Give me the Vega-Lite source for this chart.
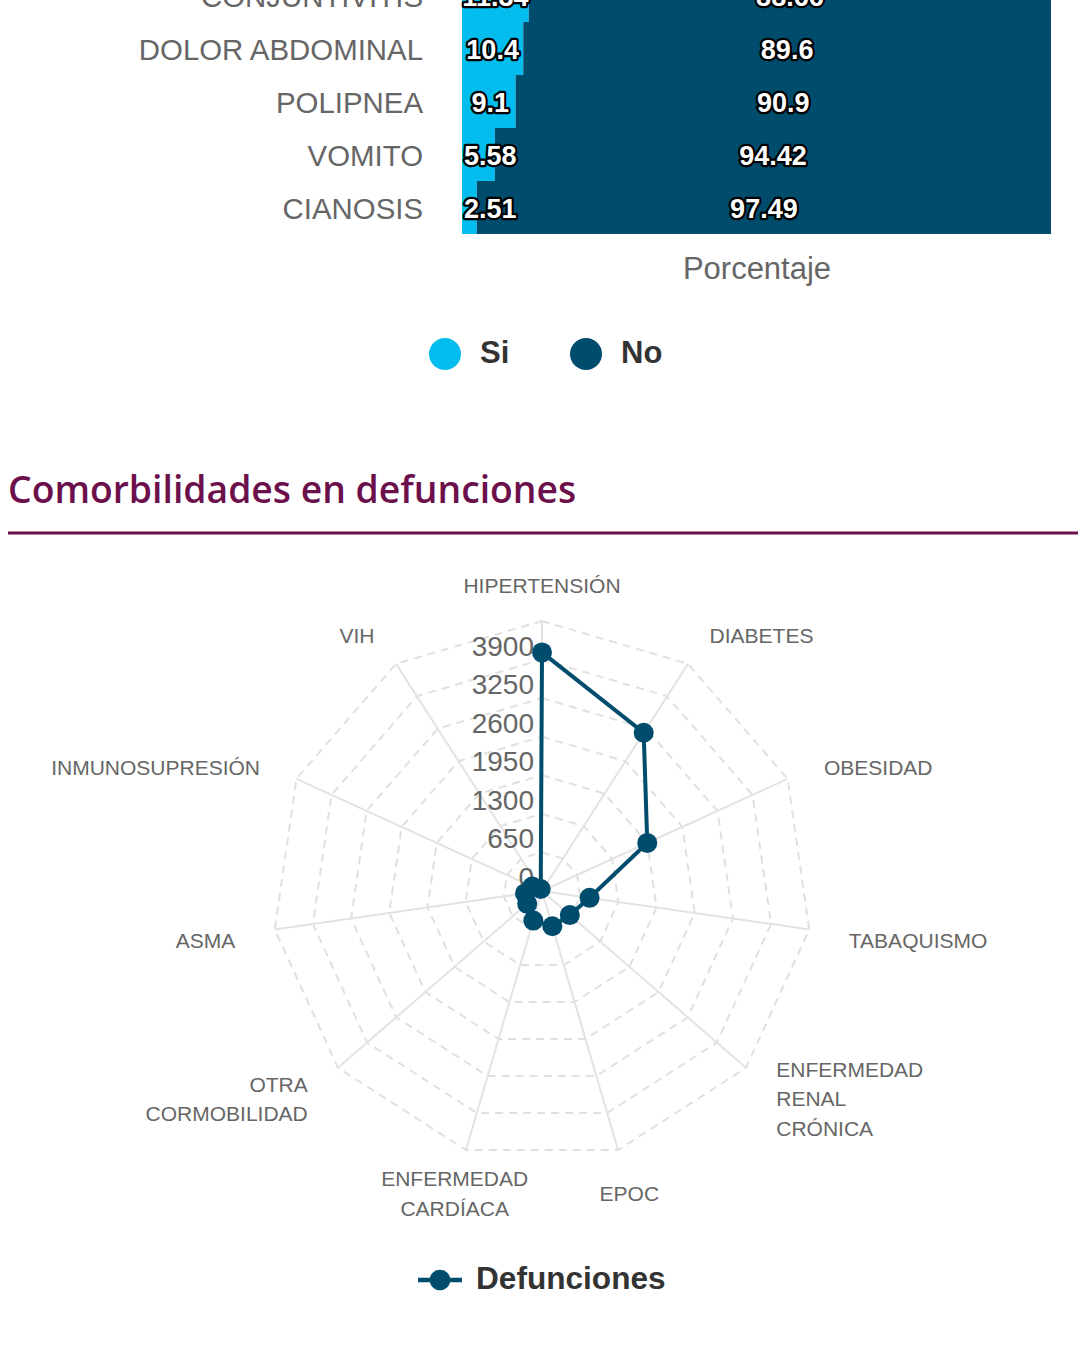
{
  "$schema": "https://vega.github.io/schema/vega-lite/v6.json",
  "width": 1090,
  "height": 1353,
  "autosize": {"type": "none"},
  "padding": 0,
  "background": "white",
  "config": {"view": {"stroke": null}, "font": "Liberation Sans"},
  "datasets": {
    "bars": [
      {"cat": "CONJUNTIVITIS", "serie": "Si", "val": 11.34},
      {"cat": "CONJUNTIVITIS", "serie": "No", "val": 88.66},
      {"cat": "DOLOR ABDOMINAL", "serie": "Si", "val": 10.4},
      {"cat": "DOLOR ABDOMINAL", "serie": "No", "val": 89.6},
      {"cat": "POLIPNEA", "serie": "Si", "val": 9.1},
      {"cat": "POLIPNEA", "serie": "No", "val": 90.9},
      {"cat": "VOMITO", "serie": "Si", "val": 5.58},
      {"cat": "VOMITO", "serie": "No", "val": 94.42},
      {"cat": "CIANOSIS", "serie": "Si", "val": 2.51},
      {"cat": "CIANOSIS", "serie": "No", "val": 97.49}
    ],
    "radar": [
      {"cat": "HIPERTENSIÓN", "lab": "HIPERTENSIÓN", "i": 0, "v": 4020, "levels": [650, 1300, 1950, 2600, 3250, 3900, 4550]},
      {"cat": "DIABETES", "lab": "DIABETES", "i": 1, "v": 3170, "levels": [650, 1300, 1950, 2600, 3250, 3900, 4550]},
      {"cat": "OBESIDAD", "lab": "OBESIDAD", "i": 2, "v": 1950, "levels": [650, 1300, 1950, 2600, 3250, 3900, 4550]},
      {"cat": "TABAQUISMO", "lab": "TABAQUISMO", "i": 3, "v": 810, "levels": [650, 1300, 1950, 2600, 3250, 3900, 4550]},
      {"cat": "ENFERMEDAD RENAL CRÓNICA", "lab": "ENFERMEDAD\nRENAL\nCRÓNICA", "i": 4, "v": 620, "levels": [650, 1300, 1950, 2600, 3250, 3900, 4550]},
      {"cat": "EPOC", "lab": "EPOC", "i": 5, "v": 620, "levels": [650, 1300, 1950, 2600, 3250, 3900, 4550]},
      {"cat": "ENFERMEDAD CARDÍACA", "lab": "ENFERMEDAD\nCARDÍACA", "i": 6, "v": 520, "levels": [650, 1300, 1950, 2600, 3250, 3900, 4550]},
      {"cat": "OTRA CORMOBILIDAD", "lab": "OTRA\nCORMOBILIDAD", "i": 7, "v": 330, "levels": [650, 1300, 1950, 2600, 3250, 3900, 4550]},
      {"cat": "ASMA", "lab": "ASMA", "i": 8, "v": 290, "levels": [650, 1300, 1950, 2600, 3250, 3900, 4550]},
      {"cat": "INMUNOSUPRESIÓN", "lab": "INMUNOSUPRESIÓN", "i": 9, "v": 180, "levels": [650, 1300, 1950, 2600, 3250, 3900, 4550]},
      {"cat": "VIH", "lab": "VIH", "i": 10, "v": 40, "levels": [650, 1300, 1950, 2600, 3250, 3900, 4550]}
    ],
    "ticks": [
      {"t": 0}, {"t": 650}, {"t": 1300}, {"t": 1950}, {"t": 2600}, {"t": 3250}, {"t": 3900}
    ],
    "titulo": [
      {"t": "Comorbilidades en defunciones"}
    ]
  },
  "layer": [
    {
      "data": {"name": "bars"},
      "transform": [
        {"calculate": "datum.serie === 'Si' ? 0 : 1", "as": "ord"},
        {"stack": "val", "groupby": ["cat"], "sort": [{"field": "ord", "order": "ascending"}], "as": ["x0", "x1"]},
        {"calculate": "datum.serie === 'Si' ? max((datum.x0 + datum.x1) / 2, 4.8) : (datum.x0 + datum.x1) / 2", "as": "mid"},
        {"calculate": "0", "as": "base"}
      ],
      "layer": [
        {
          "mark": {"type": "bar"},
          "encoding": {
            "y": {
              "field": "cat", "type": "nominal",
              "scale": {"type": "band", "domain": ["CONJUNTIVITIS", "DOLOR ABDOMINAL", "POLIPNEA", "VOMITO", "CIANOSIS"], "range": [-31, 234], "paddingInner": 0, "paddingOuter": 0},
              "axis": null
            },
            "x": {
              "field": "x0", "type": "quantitative",
              "scale": {"domain": [0, 100], "range": [462, 1051], "nice": false, "zero": false},
              "axis": {"orient": "bottom", "offset": -1119, "domain": false, "ticks": false, "labels": false, "grid": false, "title": "Porcentaje", "titleFontSize": 31, "titleFontWeight": "normal", "titleColor": "#666666", "titlePadding": 20, "titleFont": "Liberation Sans"}
            },
            "x2": {"field": "x1"},
            "color": {
              "field": "serie", "type": "nominal",
              "scale": {"domain": ["Si", "No"], "range": ["#02bdee", "#004c6d"]},
              "legend": {"orient": "none", "legendX": 429, "legendY": 338, "direction": "horizontal", "title": null, "symbolType": "circle", "symbolSize": 1024, "symbolStrokeWidth": 0, "symbolOpacity": 1, "labelFontSize": 31, "labelFontWeight": "bold", "labelColor": "#333333", "labelOffset": 19, "columnPadding": 60, "padding": 0, "labelFont": "Liberation Sans", "labelLimit": 400}
            }
          }
        },
        {
          "mark": {"type": "text", "fontSize": 27, "fontWeight": "bold", "fill": "#000000", "stroke": "#000000", "strokeWidth": 4.5, "strokeJoin": "round", "align": "center", "baseline": "middle", "dy": 2, "font": "Liberation Sans"},
          "encoding": {
            "y": {"field": "cat", "type": "nominal", "axis": null},
            "x": {
              "field": "mid", "type": "quantitative",
              "axis": {"orient": "bottom", "offset": -1119, "domain": false, "ticks": false, "labels": false, "grid": false, "title": "Porcentaje", "titleFontSize": 31, "titleFontWeight": "normal", "titleColor": "#666666", "titlePadding": 20, "titleFont": "Liberation Sans"}
            },
            "text": {"field": "val", "type": "nominal"}
          }
        },
        {
          "mark": {"type": "text", "fontSize": 27, "fontWeight": "bold", "fill": "#ffffff", "align": "center", "baseline": "middle", "dy": 2, "font": "Liberation Sans"},
          "encoding": {
            "y": {"field": "cat", "type": "nominal", "axis": null},
            "x": {
              "field": "mid", "type": "quantitative",
              "axis": {"orient": "bottom", "offset": -1119, "domain": false, "ticks": false, "labels": false, "grid": false, "title": "Porcentaje", "titleFontSize": 31, "titleFontWeight": "normal", "titleColor": "#666666", "titlePadding": 20, "titleFont": "Liberation Sans"}
            },
            "text": {"field": "val", "type": "nominal"}
          }
        },
        {
          "transform": [{"filter": "datum.serie === 'Si'"}],
          "mark": {"type": "text", "fontSize": 29.4, "fill": "#666666", "align": "right", "baseline": "middle", "dx": -39, "dy": 2, "font": "Liberation Sans"},
          "encoding": {
            "y": {"field": "cat", "type": "nominal", "axis": null},
            "x": {
              "field": "base", "type": "quantitative",
              "axis": {"orient": "bottom", "offset": -1119, "domain": false, "ticks": false, "labels": false, "grid": false, "title": "Porcentaje", "titleFontSize": 31, "titleFontWeight": "normal", "titleColor": "#666666", "titlePadding": 20, "titleFont": "Liberation Sans"}
            },
            "text": {"field": "cat", "type": "nominal"}
          }
        }
      ]
    },
    {
      "data": {"name": "radar"},
      "transform": [
        {"calculate": "datum.i * 2 * PI / 11", "as": "ang"},
        {"calculate": "datum.v * sin(datum.ang)", "as": "px"},
        {"calculate": "datum.v * cos(datum.ang)", "as": "py"},
        {"calculate": "4550 * sin(datum.ang)", "as": "sx"},
        {"calculate": "4550 * cos(datum.ang)", "as": "sy"},
        {"calculate": "5224 * sin(datum.ang)", "as": "lx"},
        {"calculate": "5224 * cos(datum.ang) + (length(split(datum.lab, '\\n')) - 1) / 2 * 497", "as": "ly"},
        {"calculate": "0", "as": "c0"},
        {"calculate": "'Defunciones'", "as": "serie"}
      ],
      "layer": [
        {
          "transform": [
            {"flatten": ["levels"], "as": ["lvl"]},
            {"calculate": "datum.lvl * sin(datum.ang)", "as": "rx"},
            {"calculate": "datum.lvl * cos(datum.ang)", "as": "ry"}
          ],
          "mark": {"type": "line", "interpolate": "linear-closed", "strokeDash": [8, 6], "color": "#e0e0e0", "strokeWidth": 2},
          "encoding": {
            "x": {"field": "rx", "type": "quantitative", "scale": {"domain": [-9134, 9235], "nice": false, "zero": false}, "axis": null},
            "y": {"field": "ry", "type": "quantitative", "scale": {"domain": [-7786, 15015], "nice": false, "zero": false}, "axis": null},
            "detail": {"field": "lvl", "type": "nominal"},
            "order": {"field": "i", "type": "quantitative"}
          }
        },
        {
          "mark": {"type": "rule", "color": "#e3e3e3", "strokeWidth": 2},
          "encoding": {
            "x": {"field": "c0", "type": "quantitative", "axis": null},
            "y": {"field": "c0", "type": "quantitative", "axis": null},
            "x2": {"field": "sx"},
            "y2": {"field": "sy"}
          }
        },
        {
          "data": {"name": "ticks"},
          "transform": [{"calculate": "0", "as": "c0"}],
          "mark": {"type": "text", "fontSize": 28, "fill": "#666666", "align": "right", "baseline": "alphabetic", "dx": -8, "dy": -4, "font": "Liberation Sans"},
          "encoding": {
            "x": {"field": "c0", "type": "quantitative", "axis": null},
            "y": {"field": "t", "type": "quantitative", "axis": null},
            "text": {"field": "t", "type": "nominal"}
          }
        },
        {
          "mark": {"type": "line", "interpolate": "linear-closed", "color": "#004c6d", "strokeWidth": 4},
          "encoding": {
            "x": {"field": "px", "type": "quantitative", "axis": null},
            "y": {"field": "py", "type": "quantitative", "axis": null},
            "order": {"field": "i", "type": "quantitative"}
          }
        },
        {
          "mark": {"type": "point", "filled": true, "size": 400, "opacity": 1, "shape": "circle"},
          "encoding": {
            "x": {"field": "px", "type": "quantitative", "axis": null},
            "y": {"field": "py", "type": "quantitative", "axis": null},
            "color": {
              "field": "serie", "type": "nominal",
              "scale": {"domain": ["Defunciones"], "range": ["#004c6d"]},
              "legend": {"orient": "none", "legendX": 418, "legendY": 1258, "title": null, "symbolType": "M-1,-0.1L1,-0.1L1,0.1L-1,0.1Z M0.47,0A0.47,0.47 0 1,1 -0.47,0A0.47,0.47 0 1,1 0.47,0Z", "symbolSize": 1936, "symbolStrokeWidth": 0, "symbolOpacity": 1, "labelFontSize": 31.6, "labelFontWeight": "bold", "labelColor": "#333333", "labelOffset": 14, "padding": 0, "labelFont": "Liberation Sans", "labelLimit": 400}
            }
          }
        },
        {
          "transform": [{"filter": "datum.i >= 1 && datum.i <= 4"}],
          "mark": {"type": "text", "fontSize": 21, "fill": "#666666", "align": "left", "baseline": "middle", "dy": 6.5, "lineBreak": "\n", "lineHeight": 29.5, "font": "Liberation Sans"},
          "encoding": {
            "x": {"field": "lx", "type": "quantitative", "axis": null},
            "y": {"field": "ly", "type": "quantitative", "axis": null},
            "text": {"field": "lab", "type": "nominal"}
          }
        },
        {
          "transform": [{"filter": "datum.i == 0 || datum.i == 5 || datum.i == 6"}],
          "mark": {"type": "text", "fontSize": 21, "fill": "#666666", "align": "center", "baseline": "middle", "dy": 6.5, "lineBreak": "\n", "lineHeight": 29.5, "font": "Liberation Sans"},
          "encoding": {
            "x": {"field": "lx", "type": "quantitative", "axis": null},
            "y": {"field": "ly", "type": "quantitative", "axis": null},
            "text": {"field": "lab", "type": "nominal"}
          }
        },
        {
          "transform": [{"filter": "datum.i >= 7"}],
          "mark": {"type": "text", "fontSize": 21, "fill": "#666666", "align": "right", "baseline": "middle", "dy": 6.5, "lineBreak": "\n", "lineHeight": 29.5, "font": "Liberation Sans"},
          "encoding": {
            "x": {"field": "lx", "type": "quantitative", "axis": null},
            "y": {"field": "ly", "type": "quantitative", "axis": null},
            "text": {"field": "lab", "type": "nominal"}
          }
        },
        {
          "data": {"name": "titulo"},
          "transform": [
            {"calculate": "-8999", "as": "tx"},
            {"calculate": "6539", "as": "ty"},
            {"calculate": "9033", "as": "tx2"},
            {"calculate": "6033", "as": "uy"}
          ],
          "layer": [
            {
              "mark": {"type": "text", "fontSize": 37.3, "fontWeight": 600, "fill": "#6c104c", "align": "left", "baseline": "alphabetic", "font": "Open Sans"},
              "encoding": {
                "x": {"field": "tx", "type": "quantitative", "axis": null},
                "y": {"field": "ty", "type": "quantitative", "axis": null},
                "text": {"field": "t", "type": "nominal"}
              }
            },
            {
              "mark": {"type": "rule", "color": "#6c104c", "strokeWidth": 3},
              "encoding": {
                "x": {"field": "tx", "type": "quantitative", "axis": null},
                "x2": {"field": "tx2"},
                "y": {"field": "uy", "type": "quantitative", "axis": null}
              }
            }
          ]
        }
      ]
    }
  ],
  "resolve": {
    "scale": {"x": "independent", "y": "independent", "color": "independent"},
    "legend": {"color": "independent"}
  }
}
